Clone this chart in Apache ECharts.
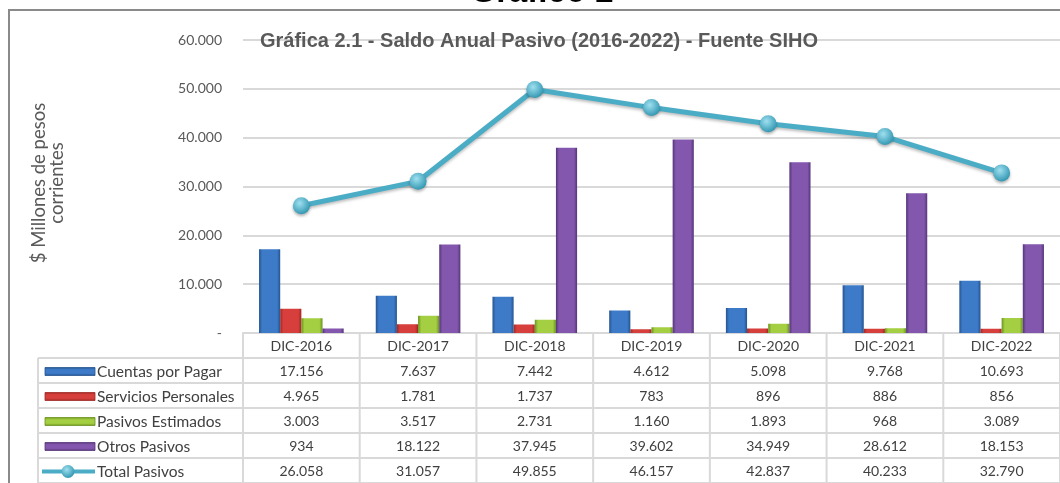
<!DOCTYPE html>
<html>
<head>
<meta charset="utf-8">
<script src="https://cdn.jsdelivr.net/npm/echarts@6/dist/echarts.min.js"></script>
<style>
html,body{margin:0;padding:0;background:#fff;}
#c{width:1060px;height:483px;}
</style>
</head>
<body>
<div id="c"></div>
<script>
const categories = ['DIC-2016','DIC-2017','DIC-2018','DIC-2019','DIC-2020','DIC-2021','DIC-2022'];
const cuentasPorPagar = [17156, 7637, 7442, 4612, 5098, 9768, 10693];
const serviciosPersonales = [4965, 1781, 1737, 783, 896, 886, 856];
const pasivosEstimados = [3003, 3517, 2731, 1160, 1893, 968, 3089];
const otrosPasivos = [934, 18122, 37945, 39602, 34949, 28612, 18153];
const totalPasivos = [26058, 31057, 49855, 46157, 42837, 40233, 32790];
const seriesNames = ['Cuentas por Pagar','Servicios Personales','Pasivos Estimados','Otros Pasivos','Total Pasivos'];
const yMin = 0, yMax = 60000, yStep = 10000;

function fmt(v){ return v === 0 ? '-' : String(v).replace(/\B(?=(\d{3})+(?!\d))/g, '.'); }

function hGrad(dark, light){
  return new echarts.graphic.LinearGradient(0,0,1,0,[
    {offset:0,color:dark},{offset:0.15,color:light},{offset:0.5,color:light},{offset:0.85,color:light},{offset:1,color:dark}]);
}
function vGrad(dark, light){
  return new echarts.graphic.LinearGradient(0,0,0,1,[
    {offset:0,color:dark},{offset:0.3,color:light},{offset:0.7,color:light},{offset:1,color:dark}]);
}
const barColors = [
  ['#24548f','#3d7bc9'],
  ['#9f2824','#d63f3b'],
  ['#6a931d','#a4cf42'],
  ['#553579','#8357ad']
];
const lineColor = '#4bacc6';
const txtFont = 'Lato, "Open Sans", sans-serif';

const chart = echarts.init(document.getElementById('c'), null, {renderer:'canvas'});
const barData = [cuentasPorPagar, serviciosPersonales, pasivosEstimados, otrosPasivos];

const option = {
  animation:false,
  backgroundColor:'#ffffff',
  grid:{left:243, top:40, width:832, height:293, containLabel:false},
  xAxis:{
    type:'category', data:categories,
    axisLine:{show:true, lineStyle:{color:'#d9d9d9', width:2}},
    axisTick:{show:false}, axisLabel:{show:false}, splitLine:{show:false}
  },
  yAxis:{
    type:'value', min:yMin, max:yMax, interval:yStep,
    axisLine:{show:false}, axisTick:{show:false},
    axisLabel:{formatter:fmt, color:'#595959', fontSize:14, fontFamily:txtFont, margin:21},
    splitLine:{lineStyle:{color:'#d9d9d9', width:2}}
  },
  series: barData.map((d,i)=>({
    name:seriesNames[i], type:'bar', data:d, barGap:'0%', barCategoryGap:'27.5%',
    itemStyle:{color:hGrad(barColors[i][0], barColors[i][1])}
  })).concat([{
    name:seriesNames[4], type:'line', data:totalPasivos, symbol:'circle', symbolSize:17,
    lineStyle:{color:lineColor, width:5, shadowColor:'rgba(0,0,0,0.25)', shadowBlur:3, shadowOffsetY:2},
    itemStyle:{color:new echarts.graphic.RadialGradient(0.4,0.35,0.7,[{offset:0,color:'#9fe0f0'},{offset:1,color:'#2c93ae'}]),
      shadowColor:'rgba(0,0,0,0.3)', shadowBlur:3, shadowOffsetY:2},
    z:5
  }])
};
chart.setOption(option);

// Data table built from the arrays, positioned with the chart's own category scale
const c0 = chart.convertToPixel({xAxisIndex:0}, 0);
const c1 = chart.convertToPixel({xAxisIndex:0}, 1);
const bandW = c1 - c0;
const tLeft = c0 - bandW/2;
const tTop = chart.convertToPixel({yAxisIndex:0}, 0);
const rowH = 25;
const legLeft = 38;
const tRight = tLeft + bandW*categories.length;
const tBottom = tTop + rowH*6;
const lineStyle = {stroke:'#d9d9d9', lineWidth:2};
const els = [];

// outer border of the picture
els.push({type:'line', shape:{x1:9,y1:10,x2:1060,y2:10}, style:{stroke:'#8a8a8a', lineWidth:2}});
els.push({type:'line', shape:{x1:9,y1:9,x2:9,y2:483}, style:{stroke:'#8a8a8a', lineWidth:2}});
// big title, cut at the top
els.push({type:'text', x:542, y:9, style:{text:'Gráfico 2', font:'bold 33px "Liberation Sans", Arial, sans-serif', fill:'#000', textAlign:'center', textVerticalAlign:'bottom'}});
// chart title
els.push({type:'text', x:260, y:41, z:10, style:{text:'Gráfica 2.1 - Saldo Anual Pasivo (2016-2022) - Fuente SIHO', font:'bold 20px "Liberation Sans", Arial, sans-serif', fill:'#595959', textAlign:'left', textVerticalAlign:'middle'}});
// y axis name
els.push({type:'text', x:48, y:183, rotation:Math.PI/2, style:{text:'$ Millones de pesos\ncorrientes', font:'18.5px ' + txtFont, fill:'#595959', textAlign:'center', textVerticalAlign:'middle', lineHeight:18}});

// table grid lines
for (let r = 1; r <= 6; r++) {
  const y = tTop + r*rowH;
  els.push({type:'line', shape:{x1:legLeft, y1:y, x2:tRight, y2:y}, style:lineStyle});
}
for (let i = 0; i <= categories.length; i++) {
  const x = tLeft + i*bandW;
  els.push({type:'line', shape:{x1:x, y1:tTop, x2:x, y2:tBottom}, style:lineStyle});
}
els.push({type:'line', shape:{x1:legLeft, y1:tTop+rowH, x2:legLeft, y2:tBottom}, style:lineStyle});

// header
categories.forEach((cat,i)=>{
  els.push({type:'text', x:tLeft + (i+0.5)*bandW, y:tTop + rowH/2 + 1, style:{text:cat, font:'14px ' + txtFont, fill:'#404040', textAlign:'center', textVerticalAlign:'middle'}});
});
const rows = barData.concat([totalPasivos]);
rows.forEach((vals,r)=>{
  const yc = tTop + (r+1)*rowH + rowH/2 + 1;
  vals.forEach((v,i)=>{
    els.push({type:'text', x:tLeft + (i+0.5)*bandW, y:yc, style:{text:fmt(v), font:'14px ' + txtFont, fill:'#404040', textAlign:'center', textVerticalAlign:'middle'}});
  });
  els.push({type:'text', x:97, y:yc, style:{text:seriesNames[r], font:'15.5px ' + txtFont, fill:'#404040', textAlign:'left', textVerticalAlign:'middle'}});
  if (r < 4) {
    els.push({type:'rect', shape:{x:45, y:yc-4, width:50, height:8}, style:{fill:vGrad(barColors[r][0], barColors[r][1]), stroke:barColors[r][0], lineWidth:0.8}});
  } else {
    els.push({type:'line', shape:{x1:42, y1:yc, x2:95, y2:yc}, style:{stroke:lineColor, lineWidth:4}});
    els.push({type:'circle', shape:{cx:68, cy:yc, r:6.5}, style:{fill:new echarts.graphic.RadialGradient(0.4,0.35,0.7,[{offset:0,color:'#9fe0f0'},{offset:1,color:'#2c93ae'}])}});
  }
});
chart.setOption({graphic:{elements:els}});
</script>
</body>
</html>
